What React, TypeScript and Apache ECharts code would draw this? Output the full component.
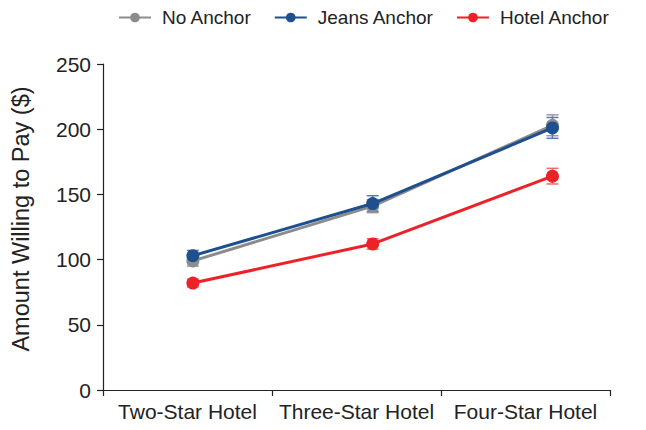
import React, { useEffect, useRef } from "react";
import * as echarts from "echarts";

const categories = ["Two-Star Hotel", "Three-Star Hotel", "Four-Star Hotel"];
const seriesNames = ["No Anchor", "Jeans Anchor", "Hotel Anchor"];
const noAnchor = [99, 141, 203];
const noAnchorErr = [4, 5, 8];
const jeansAnchor = [103, 143, 201];
const jeansAnchorErr = [4, 6, 8];
const hotelAnchor = [82, 112, 164];
const hotelAnchorErr = [3, 4, 6];
const yTicks = [0, 50, 100, 150, 200, 250];

const colors = ["#8c8c8c", "#1e4f8f", "#ec2227"];
const errColors = ["#9c9c9c", "#5a7cb6", "#f06a6e"];

const FONT = "'Liberation Sans', Arial, sans-serif";

export default function App() {
  const ref = useRef<HTMLDivElement>(null);
  useEffect(() => {
    if (!ref.current) return;
    const chart = echarts.init(ref.current, undefined, { renderer: "svg" });
    const values = [noAnchor, jeansAnchor, hotelAnchor];
    const errs = [noAnchorErr, jeansAnchorErr, hotelAnchorErr];

    const errSeries = values.map((vals, si) => ({
      type: "custom",
      name: seriesNames[si] + " error",
      xAxisIndex: 1,
      z: 1,
      silent: true,
      data: vals.map((v, i) => [i, v - errs[si][i], v + errs[si][i]]),
      renderItem: (params: any, api: any) => {
        const x = api.value(0);
        const lo = api.coord([x, api.value(1)]);
        const hi = api.coord([x, api.value(2)]);
        const style = { stroke: errColors[si], lineWidth: 1.5 };
        const hw = 6;
        return {
          type: "group",
          children: [
            { type: "line", shape: { x1: lo[0], y1: lo[1], x2: hi[0], y2: hi[1] }, style },
            { type: "line", shape: { x1: lo[0] - hw, y1: lo[1], x2: lo[0] + hw, y2: lo[1] }, style },
            { type: "line", shape: { x1: hi[0] - hw, y1: hi[1], x2: hi[0] + hw, y2: hi[1] }, style },
          ],
        };
      },
    }));

    const lineSeries = values.map((vals, si) => ({
      type: "line",
      name: seriesNames[si],
      xAxisIndex: 1,
      z: 3 + si,
      data: vals.map((v, i) => [i, v]),
      symbol: "circle",
      symbolSize: 13,
      lineStyle: { color: colors[si], width: 3 },
      itemStyle: { color: colors[si] },
    }));

    chart.setOption({
      animation: false,
      backgroundColor: "#ffffff",
      textStyle: { fontFamily: FONT },
      legend: {
        data: seriesNames,
        left: 113,
        top: 3,
        itemWidth: 32,
        itemHeight: 12,
        itemGap: 22,
        textStyle: { fontSize: 19, color: "#222", fontFamily: FONT, padding: [0, 0, 0, 6] },
      },
      grid: { left: 103, right: 36, top: 64, bottom: 40, containLabel: false },
      xAxis: [
        {
          type: "category",
          data: categories,
          boundaryGap: true,
          axisLine: { onZero: false, lineStyle: { color: "#222", width: 1.2 } },
          axisTick: { show: true, length: 6, inside: false, lineStyle: { color: "#222", width: 1.2 } },
          axisLabel: { color: "#222", fontSize: 21, margin: 11, interval: 0, fontFamily: FONT },
        },
        {
          type: "value",
          min: -0.5,
          max: 2.32,
          show: false,
        },
      ],
      yAxis: {
        type: "value",
        min: yTicks[0],
        max: yTicks[yTicks.length - 1],
        interval: 50,
        name: "Amount Willing to Pay ($)",
        nameLocation: "middle",
        nameRotate: 90,
        nameGap: 70,
        nameTextStyle: { fontSize: 23.5, color: "#222", fontFamily: FONT, padding: [0, 0, 0, 16] },
        splitLine: { show: false },
        axisLine: { show: true, onZero: false, lineStyle: { color: "#222", width: 1.2 } },
        axisTick: { show: true, length: 6, lineStyle: { color: "#222", width: 1.2 } },
        axisLabel: { color: "#222", fontSize: 21, margin: 12, fontFamily: FONT },
      },
      series: [...errSeries, ...lineSeries],
    });
    return () => chart.dispose();
  }, []);
  return <div ref={ref} style={{ width: 646, height: 430, position: "absolute", left: 0, top: 0 }} />;
}
